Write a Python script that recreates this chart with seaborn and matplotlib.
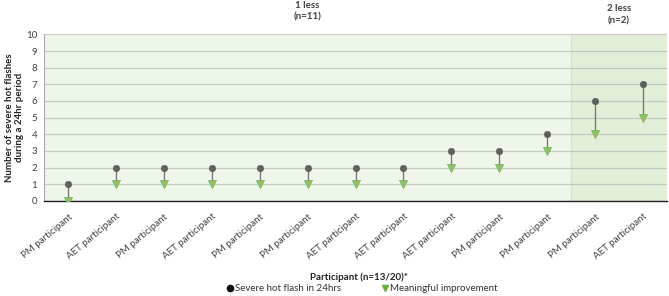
import pandas as pd
import seaborn as sns
import matplotlib.pyplot as plt

# datos
participants = ["PM participant", "AET participant", "PM participant", "AET participant",
                "PM participant", "PM participant", "AET participant", "AET participant",
                "AET participant", "PM participant", "PM participant", "PM participant",
                "AET participant"]
severe = [1, 2, 2, 2, 2, 2, 2, 2, 3, 3, 4, 6, 7]
improvement = [0, 1, 1, 1, 1, 1, 1, 1, 2, 2, 3, 4, 5]
group_labels = ["1 less\n(n=11)", "2 less\n(n=2)"]
group_sizes = [11, 2]

df = pd.DataFrame({"pos": range(len(severe)), "severe": severe, "improvement": improvement})

sns.set_style("white")
plt.rcParams["font.family"] = ["Lato", "DejaVu Sans"]

fig = plt.figure(figsize=(6.69, 2.96), dpi=100)
ax = fig.add_axes([0.066, 0.321, 0.931, 0.563])

n = len(severe)
ax.set_xlim(-0.5, n - 0.5)
ax.set_ylim(0, 10)

# fondos de los grupos
start = -0.5
colors = ["#eef5e9", "#e2eed8"]
centers = []
for size, c in zip(group_sizes, colors):
    ax.axvspan(start, start + size, color=c, zorder=0, lw=0)
    centers.append(start + size / 2)
    start += size
ax.axvline(group_sizes[0] - 0.5, color="#d3e3c7", lw=0.8, zorder=0.5)

ax.set_yticks(range(0, 11))
ax.yaxis.grid(True, color="#c5cac1", lw=0.9, zorder=1)
ax.set_axisbelow(True)

ax.vlines(df["pos"], df["improvement"] + 0.12, df["severe"], color="#6f736d", lw=0.9, zorder=2)
sns.scatterplot(data=df, x="pos", y="severe", ax=ax, marker="o", s=22, color="#5b605a",
                edgecolor="#5b605a", zorder=3, legend=False)
sns.scatterplot(data=df, x="pos", y="improvement", ax=ax, marker="v", s=34, color="#8dc266",
                edgecolor="#7aae55", linewidth=0.5, zorder=3, legend=False)

ax.set_xticks(range(n))
ax.set_xticklabels(participants, rotation=40, ha="right", rotation_mode="anchor", fontsize=7, color="#404040")
ax.set_xticks([i - 0.5 for i in range(n + 1)], minor=True)
ax.tick_params(axis="x", which="major", length=0, pad=8)
ax.tick_params(axis="x", which="minor", length=4, width=0.8, color="#222222", direction="out")
ax.tick_params(axis="y", length=3, width=0.8, labelsize=7, labelcolor="#404040", color="#999999", pad=2)

for s in ["top", "right"]:
    ax.spines[s].set_visible(False)
ax.spines["left"].set_color("#aaaaaa")
ax.spines["left"].set_linewidth(0.8)
ax.spines["bottom"].set_color("#222222")
ax.spines["bottom"].set_linewidth(1.0)

ax.set_xlabel("Participant (n=13/20)*", fontsize=7, fontweight="bold", color="#222222")
ax.xaxis.set_label_coords(0.505, -0.43)
ax.set_ylabel("Number of severe hot flashes\nduring a 24hr period", fontsize=7, fontweight="bold",
              color="#222222", linespacing=1.2)
ax.yaxis.set_label_coords(-0.032, 0.5)

for cx, txt, ty in zip(centers, group_labels, [10.75, 10.55]):
    ax.text(cx, ty, txt, ha="center", va="bottom", fontsize=7, fontweight="bold",
            color="#404040", linespacing=1.45)

h1 = plt.Line2D([], [], ls="", marker="o", ms=4.5, color="#111111", label="Severe hot flash in 24hrs")
h2 = plt.Line2D([], [], ls="", marker="v", ms=4, color="#6fae3e", label="Meaningful improvement")
fig.legend(handles=[h1, h2], loc="center", bbox_to_anchor=(0.54, 0.025), ncol=2, frameon=False,
           fontsize=7, handletextpad=0.05, columnspacing=4, handlelength=1, labelcolor="#333333")

fig.savefig("out.png", dpi=100)
